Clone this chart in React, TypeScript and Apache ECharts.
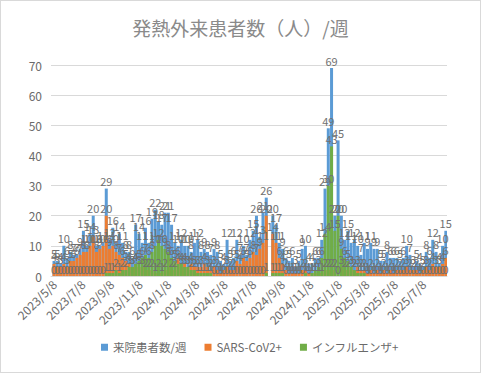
import React, { useEffect, useRef } from "react";
import * as echarts from "echarts";

// Weekly values, first week starts 2023/5/8 (one row per week, null = no data)
const firstWeek = "2023/5/8";
const visits: (number | null)[] = [
  5, 5, 4, 10, 6, 8, 7, 7, 9, 15,
  10, 14, 20, 10, 10, 11, 29, 12, 16, 11,
  14, 11, 8, 8, 6, 17, 14, 11, 16, 11,
  19, 22, 18, 17, 21, 21, 17, 11, 10, 12,
  10, 10, 8, 11, 12, 8, 9, 8, 7, 9,
  8, 5, 4, 12, 5, 6, 12, 7, 10, 7,
  12, 15, 20, 13, 21, 26, null, 20, 17, 11,
  9, 6, 5, 6, 3, 5, 9, 10, 4, 4,
  6, 6, 12, 29, 49, 69, 20, 45, 20, 12,
  15, 11, 12, 10, 7, 11, 9, 11, 9, 9,
  5, 5, 8, 6, 6, 6, 5, 6, 10, 7,
  3, 5, 4, 3, 8, 6, 12, 8, 4, 10, 15,
];
const covid: (number | null)[] = [
  4, 3, 3, 4, 3, 5, 5, 6, 7, 8,
  8, 10, 13, 8, 9, 10, 20, 9, 10, 8,
  7, 6, 5, 4, 3, 4, 3, 3, 2, 2,
  2, 1, 2, 1, 2, 6, 2, 2, 6, 3,
  4, 3, 4, 3, 3, 3, 4, 3, 2, 3,
  2, 1, 2, 3, 2, 2, 5, 4, 6, 5,
  6, 8, 7, 9, 11, 20, null, 14, 11, 6,
  4, 2, 1, 1, 1, 1, 2, 2, 1, 1,
  1, 1, 1, 2, 2, 2, 2, 0, 3, 2,
  2, 3, 2, 3, 2, 2, 1, 2, 1, 2,
  1, 2, 1, 2, 1, 2, 2, 2, 3, 2,
  2, 2, 1, 2, 3, 2, 4, 3, 3, 4, 6,
];
const flu: (number | null)[] = [
  0, 0, 0, 0, 0, 0, 0, 0, 0, 0,
  0, 0, 0, 0, 0, 0, 1, 1, 1, 2,
  1, 2, 2, 3, 3, 4, 5, 6, 7, 6,
  8, 10, 12, 10, 9, 8, 6, 5, 4, 4,
  3, 3, 2, 2, 1, 1, 1, 1, 1, 0,
  0, 0, 0, 0, 0, 0, 0, 0, 0, 0,
  0, 0, 0, 0, 0, 1, null, 1, 1, 1,
  1, 0, 0, 0, 0, 0, 0, 1, 0, 1,
  2, 3, 6, 14, 30, 43, 15, 20, 9, 6,
  5, 3, 2, 1, 1, 1, 0, 0, 0, 0,
  0, 0, 0, 0, 0, 0, 0, 0, 0, 0,
  0, 0, 0, 0, 0, 0, 0, 0, 0, 0, 0,
];
const seriesNames = ["来院患者数/週", "SARS-CoV2+", "インフルエンザ+"];
const yTicks = { min: 0, max: 70, interval: 10 };

// daily date axis (like Excel's date axis)
const axisStart = Date.UTC(2023, 4, 2);
const axisEnd = Date.UTC(2025, 7, 27);
const DAY = 86400000;
function fmt(t: number) {
  const d = new Date(t);
  return `${d.getUTCFullYear()}/${d.getUTCMonth() + 1}/${d.getUTCDate()}`;
}
const days: string[] = [];
for (let t = axisStart; t <= axisEnd; t += DAY) days.push(fmt(t));
const firstIdx = days.indexOf(firstWeek);
function toDaily(vals: (number | null)[]) {
  const arr: any[] = days.map(() => "-");
  vals.forEach((v, i) => {
    const k = firstIdx + i * 7;
    if (k < arr.length) arr[k] = v === null ? "-" : v;
  });
  return arr;
}

export default function App() {
  const ref = useRef<HTMLDivElement>(null);
  useEffect(() => {
    if (!ref.current) return;
    const chart = echarts.init(ref.current, undefined, { renderer: "svg" });
    const colors = ["#5B9BD5", "#ED7D31", "#70AD47"];
    const label = {
      show: true,
      position: "top" as const,
      distance: 2,
      color: "#707070",
      fontSize: 11,
    };
    chart.setOption({
      animation: false,
      textStyle: { fontFamily: "Noto Sans CJK JP, sans-serif" },
      title: {
        text: "発熱外来患者数（人）/週",
        left: "center",
        top: 12,
        textStyle: { fontSize: 19, fontWeight: "normal", color: "#8a8a8a" },
      },
      legend: {
        bottom: 14,
        left: 95,
        icon: "rect",
        itemWidth: 7,
        itemHeight: 7,
        itemGap: 18,
        textStyle: { fontSize: 11.5, color: "#6a6a6a" },
        data: seriesNames,
      },
      grid: { left: 50, right: 33, top: 64, bottom: 96 },
      xAxis: {
        type: "category",
        data: days,
        boundaryGap: true,
        axisTick: { show: false },
        axisLine: { lineStyle: { color: "#d9d9d9" } },
        axisLabel: {
          rotate: 45,
          fontSize: 12,
          color: "#6a6a6a",
          margin: 6,
          interval: (_i: number, v: string) => {
            const p = v.split("/");
            return p[2] === "8" && Number(p[1]) % 2 === 1;
          },
        },
      },
      yAxis: {
        type: "value",
        ...yTicks,
        axisLine: { show: false },
        axisTick: { show: false },
        axisLabel: { fontSize: 12, color: "#6a6a6a", margin: 9 },
        splitLine: { lineStyle: { color: "#d9d9d9" } },
      },
      series: [visits, covid, flu].map((vals, i) => ({
        name: seriesNames[i],
        type: "bar",
        data: toDaily(vals),
        barWidth: 3,
        barGap: "-100%",
        itemStyle: { color: colors[i] },
        label,
      })),
    });
    return () => chart.dispose();
  }, []);
  return (
    <div
      style={{
        position: "fixed",
        left: 0,
        top: 0,
        width: 481,
        height: 373,
        boxSizing: "border-box",
        border: "1px solid #d9d9d9",
        background: "#fff",
      }}
    >
      <div ref={ref} style={{ width: 479, height: 371 }} />
    </div>
  );
}
